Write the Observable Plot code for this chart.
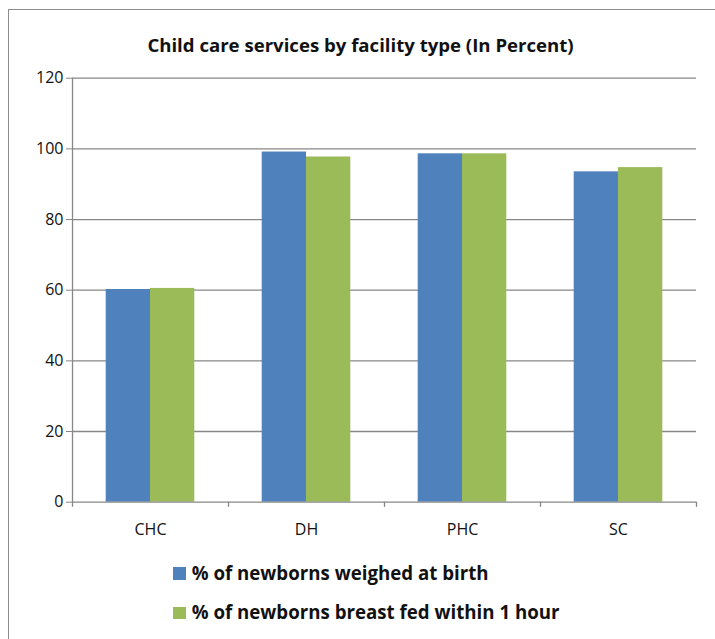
<!DOCTYPE html>
<html>
<head>
<meta charset="utf-8">
<script src="https://cdn.jsdelivr.net/npm/d3@7"></script>
<script src="https://cdn.jsdelivr.net/npm/@observablehq/plot@0.6"></script>
<style>
  html, body { margin: 0; padding: 0; background: #fff; overflow: hidden; width: 715px; height: 639px; }
  #wrap { position: relative; width: 715px; height: 639px; font-family: "Open Sans", Lato, sans-serif; color: #111; }
  #border { position: absolute; left: 8px; top: 9px; width: 900px; height: 900px; border: 1px solid #8c8c8c; box-sizing: border-box; }
  #title { position: absolute; left: 0; top: 35.8px; width: 721px; text-align: center; font-weight: bold; font-size: 18.6px; line-height: 18.6px; white-space: nowrap; }
  #chart { position: absolute; left: 0; top: 60px; }
  .sw { position: absolute; left: 173.3px; width: 12.3px; height: 12.3px; }
  .lt { position: absolute; left: 191.7px; font-weight: bold; font-size: 18.7px; line-height: 18.7px; white-space: nowrap; }
</style>
</head>
<body>
<div id="wrap">
  <div id="border"></div>
  <div id="title">Child care services by facility type (In Percent)</div>
  <div id="chart"></div>
  <div id="legend"></div>
</div>
<script>
const categories = ["CHC", "DH", "PHC", "SC"];
const seriesNames = ["% of newborns weighed at birth", "% of newborns breast fed within 1 hour"];
const weighedAtBirth = [60.2, 99.1, 98.6, 93.5];
const breastFedWithin1h = [60.5, 97.7, 98.6, 94.7];
const yTicks = [0, 20, 40, 60, 80, 100, 120];
const colors = ["#4F81BD", "#9BBB59"];

const weighedData = categories.map((c, i) => ({category: c, value: weighedAtBirth[i]}));
const fedData = categories.map((c, i) => ({category: c, value: breastFedWithin1h[i]}));

const gray = "#878787";
const halfStep = 78;

const chart = Plot.plot({
  width: 715,
  height: 486.7,
  marginLeft: 72,
  marginRight: 19,
  marginTop: 17.7,
  marginBottom: 45,
  x: {domain: categories, padding: 0, axis: null},
  y: {domain: [0, 120], axis: null},
  style: {fontFamily: "'Open Sans', Lato, sans-serif", fontSize: "16px", color: "#111", background: "transparent", overflow: "visible"},
  marks: [
    Plot.ruleY(yTicks.filter(d => d > 0), {stroke: gray, strokeWidth: 1.3}),
    Plot.barY(weighedData, {x: "category", y: "value", fill: colors[0], insetLeft: 33.7, insetRight: 78}),
    Plot.barY(fedData, {x: "category", y: "value", fill: colors[1], insetLeft: 78, insetRight: 33.7}),
    Plot.ruleY([0], {stroke: gray, strokeWidth: 1.3}),
    Plot.ruleX([categories[0]], {dx: -halfStep, y1: -1.45, y2: 120, stroke: gray, strokeWidth: 1.3}),
    Plot.ruleX(categories.slice(1), {dx: -halfStep, y1: -1.45, y2: 0, stroke: gray, strokeWidth: 1.3}),
    Plot.ruleX([categories[categories.length - 1]], {dx: halfStep, y1: -1.45, y2: 0, stroke: gray, strokeWidth: 1.3}),
    Plot.axisY({ticks: yTicks, tickSize: 6, tickPadding: 3, stroke: gray, fill: "#111", fontSize: 16, label: null}),
    Plot.axisX({tickSize: 0, tickPadding: 21.5, fill: "#111", fontSize: 16, label: null})
  ]
});
document.getElementById("chart").appendChild(chart);

const legend = document.getElementById("legend");
const swatchTops = [567.3, 606.7];
const textTops = [564.1, 603.4];
seriesNames.forEach((name, i) => {
  const sw = document.createElement("div");
  sw.className = "sw";
  sw.style.top = swatchTops[i] + "px";
  sw.style.background = colors[i];
  const tx = document.createElement("div");
  tx.className = "lt";
  tx.style.top = textTops[i] + "px";
  tx.textContent = name;
  legend.appendChild(sw);
  legend.appendChild(tx);
});
</script>
</body>
</html>
